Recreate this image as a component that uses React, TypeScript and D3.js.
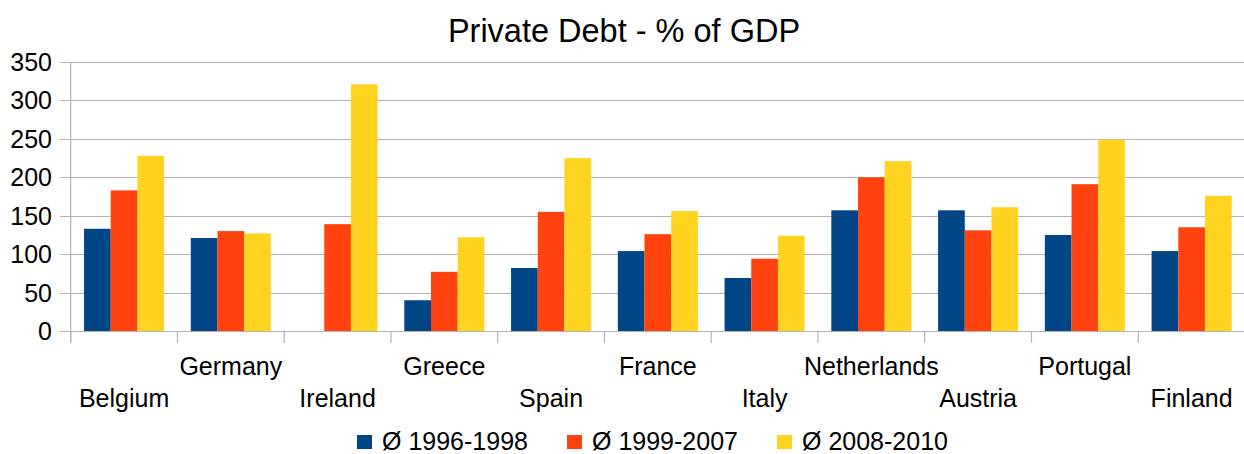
import React from "react";
import * as d3 from "d3";

const categories = ["Belgium", "Germany", "Ireland", "Greece", "Spain", "France", "Italy", "Netherlands", "Austria", "Portugal", "Finland"];
const seriesNames = ["Ø 1996-1998", "Ø 1999-2007", "Ø 2008-2010"];
const s1996: (number | null)[] = [133, 121, null, 40, 82, 104, 69, 157, 157, 125, 104];
const s1999: (number | null)[] = [183, 130, 139, 77, 155, 126, 94, 200, 131, 191, 135];
const s2008: (number | null)[] = [228, 127, 321, 122, 225, 156, 124, 221, 161, 249, 176];
const yTicks = [0, 50, 100, 150, 200, 250, 300, 350];
const colors = ["#004586", "#ff420e", "#ffd320"];
const title = "Private Debt - % of GDP";

const W = 1244;
const H = 454;
const FONT = "'Liberation Sans', Arial, sans-serif";

export default function App() {
  const left = 70.7;
  const right = 1245;
  const top = 62;
  const bottom = 331;
  const x = d3.scaleBand<string>().domain(categories).range([left, right]).paddingInner(0).paddingOuter(0);
  const y = d3.scaleLinear().domain([0, 350]).range([bottom, top]);
  const bw = x.bandwidth();
  const inner = d3.scaleBand<number>().domain([0, 1, 2]).range([bw / 8, bw - bw / 8]).padding(0);
  const series = [s1996, s1999, s2008];
  const gridColor = "#b3b3b3";
  const legendX = [357, 567, 777];

  return (
    <svg width={W} height={H} style={{ position: "absolute", left: 0, top: 0, background: "#fff" }} fontFamily={FONT}>
      <rect x={0} y={0} width={W} height={H} fill="#fff" />
      <text x={624} y={42} textAnchor="middle" fontSize={32.5} fill="#000">{title}</text>
      {yTicks.map((t) => (
        <g key={t}>
          <line x1={60} x2={W} y1={Math.round(y(t)) + 0.5} y2={Math.round(y(t)) + 0.5} stroke={gridColor} strokeWidth={1.2} />
          <text x={52} y={y(t)} dy="0.36em" textAnchor="end" fontSize={25} fill="#000">{t}</text>
        </g>
      ))}
      <line x1={left} x2={left} y1={top} y2={bottom + 12} stroke={gridColor} strokeWidth={1.2} />
      {categories.map((c) => (
        <line key={c} x1={x(c) as number} x2={x(c) as number} y1={bottom} y2={bottom + 12} stroke={gridColor} strokeWidth={1.2} />
      ))}
      {series.map((s, si) =>
        s.map((v, ci) =>
          v == null ? null : (
            <rect
              key={`${si}-${ci}`}
              x={(x(categories[ci]) as number) + (inner(si) as number)}
              y={y(v)}
              width={inner.bandwidth()}
              height={y(0) - y(v)}
              fill={colors[si]}
            />
          )
        )
      )}
      {categories.map((c, i) => (
        <text
          key={c}
          x={(x(c) as number) + bw / 2}
          y={i % 2 === 0 ? 407 : 375}
          textAnchor="middle"
          fontSize={25}
          fill="#000"
        >
          {c}
        </text>
      ))}
      {seriesNames.map((n, i) => (
        <g key={n}>
          <rect x={legendX[i]} y={435} width={15} height={14} fill={colors[i]} />
          <text x={legendX[i] + 25} y={450} fontSize={25} fill="#000">{n}</text>
        </g>
      ))}
    </svg>
  );
}
